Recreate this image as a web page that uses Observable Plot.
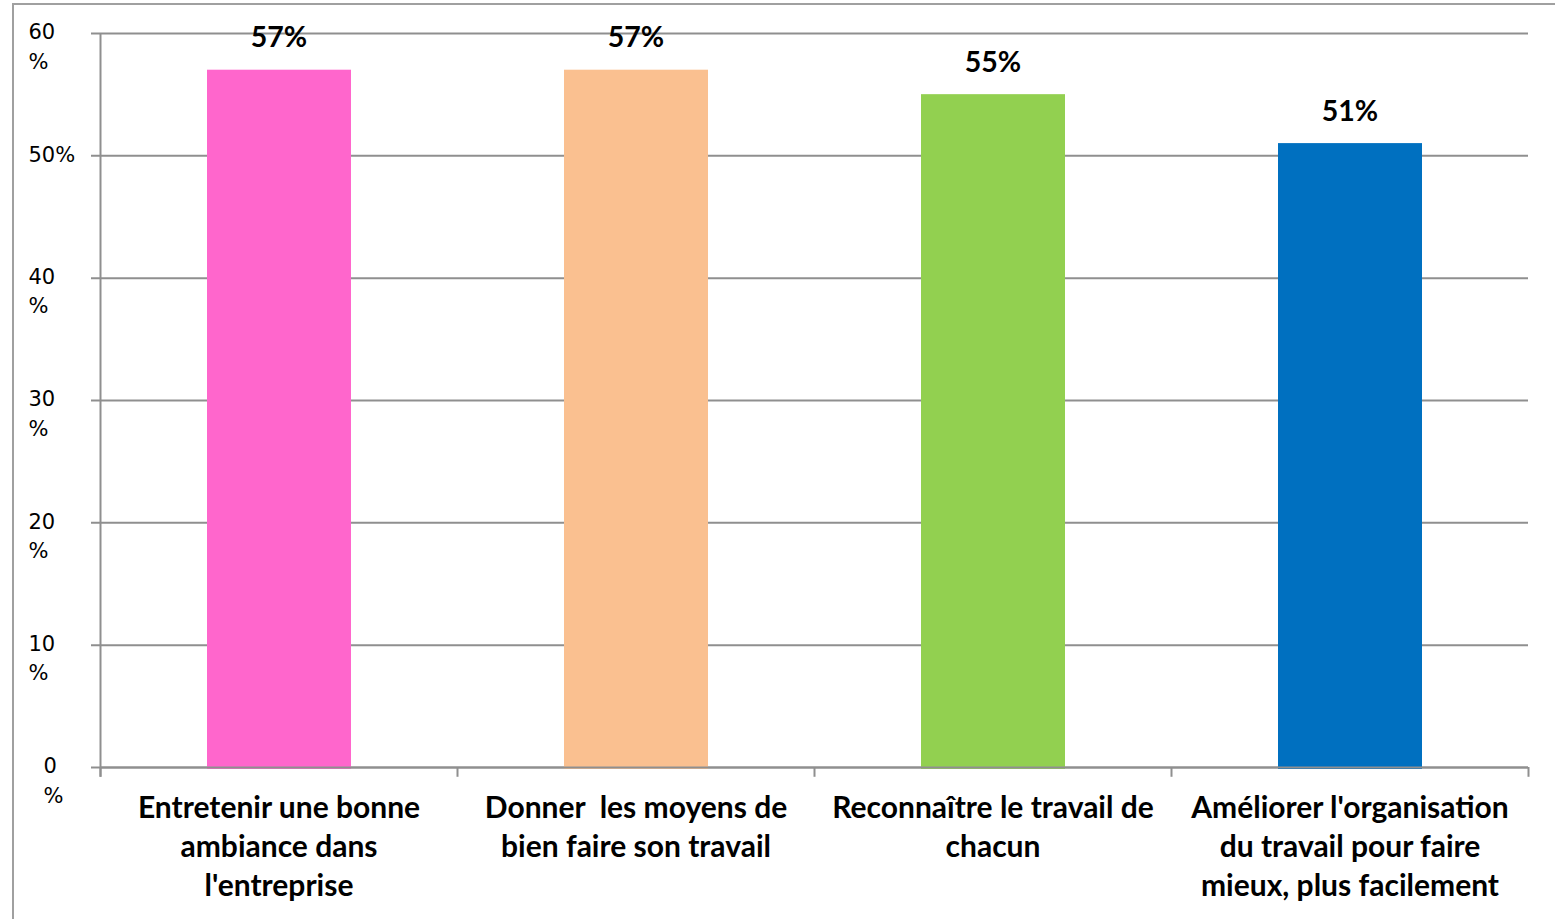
<!DOCTYPE html>
<html>
<head>
<meta charset="utf-8">
<script src="https://cdn.jsdelivr.net/npm/d3@7"></script>
<script src="https://cdn.jsdelivr.net/npm/@observablehq/plot@0.6"></script>
<style>
  html, body { margin: 0; padding: 0; background: #fff; }
  #wrap { position: relative; width: 1555px; height: 919px; overflow: hidden; }
  #frame { position: absolute; left: 12px; top: 3px; width: 1560px; height: 930px;
           border-top: 2px solid #a0a0a0; border-left: 2px solid #a0a0a0; }
  #chart { position: absolute; left: 0; top: 0; }
  #chart text { white-space: pre; }
</style>
</head>
<body>
<div id="wrap"><div id="frame"></div><div id="chart"></div></div>
<script>
const categories = [
  "Entretenir une bonne\nambiance dans\nl'entreprise",
  "Donner  les moyens de\nbien faire son travail",
  "Reconnaître le travail de\nchacun",
  "Améliorer l'organisation\ndu travail pour faire\nmieux, plus facilement"
];
const values = [57, 57, 55, 51];
const valueLabels = ["57%", "57%", "55%", "51%"];
const colors = ["#FF66CC", "#FAC090", "#92D050", "#0070C0"];
const yTicks = [0, 10, 20, 30, 40, 50, 60];
const yTickLabels = ["0\n%", "10\n%", "20\n%", "30\n%", "40\n%", "50%", "60\n%"];

const data = categories.map((c, i) => ({i, c, v: values[i], lab: valueLabels[i], col: colors[i]}));
const bounds = d3.range(categories.length + 1);
const yt = yTicks.map((t, k) => ({t, lab: yTickLabels[k]}));

const grid = "#8f8f8f";
const plot = Plot.plot({
  width: 1555,
  height: 919,
  marginLeft: 100,
  marginRight: 27,
  marginTop: 33,
  marginBottom: 152,
  x: {type: "linear", domain: [0, categories.length], axis: null},
  y: {domain: [0, 60], axis: null},
  style: {background: "transparent", overflow: "visible"},
  marks: [
    Plot.ruleY(yTicks, {stroke: grid, strokeWidth: 2, insetLeft: -9}),
    Plot.ruleX([0], {y1: -0.8, y2: 60, stroke: grid, strokeWidth: 2}),
    Plot.rectY(data, {x1: "i", x2: d => d.i + 1, y1: 0, y2: "v", fill: "col", insetLeft: 107, insetRight: 106, insetBottom: -2}),
    Plot.ruleY([0], {stroke: grid, strokeWidth: 2}),
    Plot.ruleX(bounds, {y1: -0.8, y2: 0, stroke: grid, strokeWidth: 2}),
    Plot.text(data, {x: d => d.i + 0.5, y: "v", text: "lab", dy: -23, lineAnchor: "bottom",
      fontFamily: "Lato", fontWeight: "bold", fontSize: 28.5, fill: "#000"}),
    Plot.text(data, {x: d => d.i + 0.5, y: 0, text: "c", dy: 23, lineAnchor: "top", lineHeight: 1.3,
      fontFamily: "Lato", fontWeight: "bold", fontSize: 30, fill: "#000"}),
    Plot.text(yt.filter(d => d.t !== 0), {y: "t", text: "lab", frameAnchor: "left", dx: -72, textAnchor: "start",
      lineAnchor: "top", dy: -15, lineHeight: 1.4, fontFamily: "DejaVu Sans", fontSize: 21, fill: "#000"}),
    Plot.text(yt.filter(d => d.t === 0), {y: "t", text: "lab", frameAnchor: "left", dx: -57, textAnchor: "start",
      lineAnchor: "top", dy: -15, lineHeight: 1.4, fontFamily: "DejaVu Sans", fontSize: 21, fill: "#000"})
  ]
});
document.getElementById("chart").appendChild(plot);
</script>
</body>
</html>
